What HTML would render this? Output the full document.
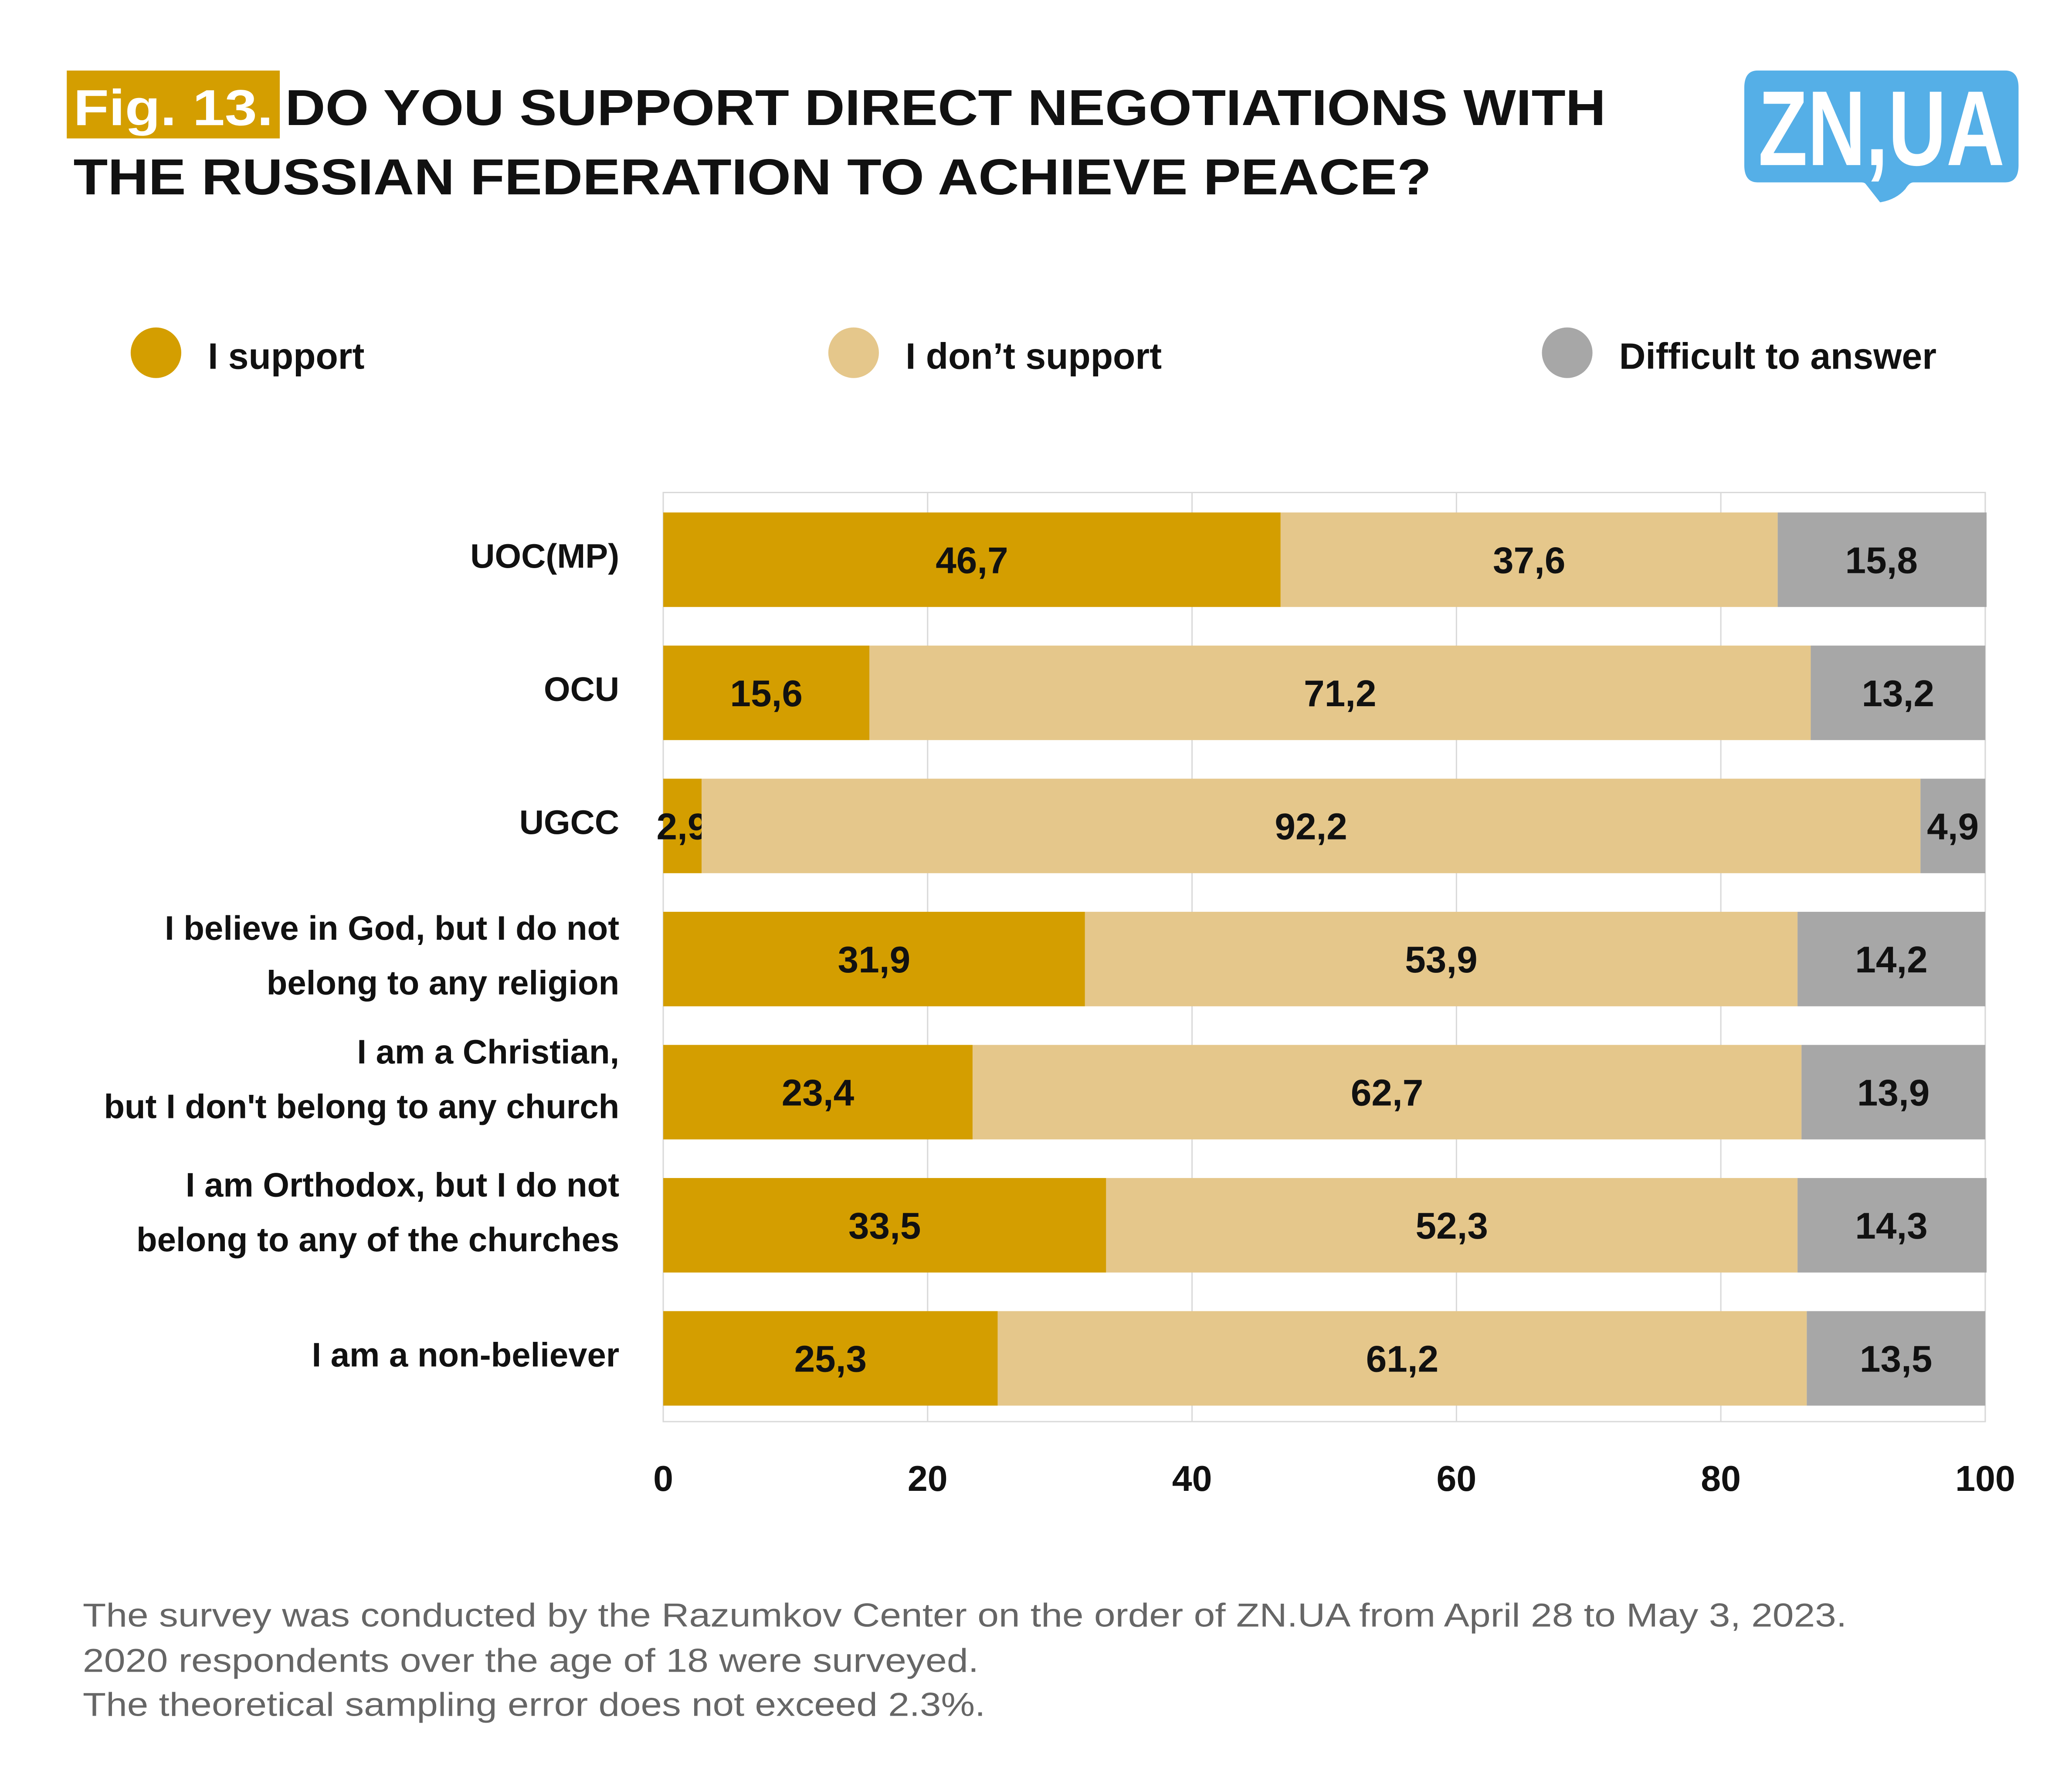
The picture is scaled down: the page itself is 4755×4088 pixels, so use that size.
<!DOCTYPE html>
<html><head><meta charset="utf-8"><style>
html,body{margin:0;padding:0;background:#fff}
svg{display:block}
text{font-family:"Liberation Sans","DejaVu Sans",sans-serif}
</style></head><body>
<svg id="chart" width="4755" height="4088" viewBox="0 0 1556 1338" xmlns="http://www.w3.org/2000/svg">
<rect width="1556" height="1338" fill="#fff"/>
<g>
<rect x="50" y="53" width="160" height="51" fill="#d49e00"/>
<text x="55" y="94" font-size="38" font-weight="bold" fill="#fff" textLength="150" lengthAdjust="spacingAndGlyphs">Fig. 13.</text>
<text x="214" y="94" font-size="38" font-weight="bold" fill="#111" textLength="992" lengthAdjust="spacingAndGlyphs">DO YOU SUPPORT DIRECT NEGOTIATIONS WITH</text>
<text x="55" y="146" font-size="38" font-weight="bold" fill="#111" textLength="1020" lengthAdjust="spacingAndGlyphs">THE RUSSIAN FEDERATION TO ACHIEVE PEACE?</text>
</g>
<g>
<path d="M1320 53 H1506 Q1516 53 1516 66 V124 Q1516 137 1506 137 H1437 Q1434 137 1431 142 Q1424 150 1412 152 L1401 138 Q1400 137 1398 137 H1320 Q1310 137 1310 124 V66 Q1310 53 1320 53 Z" fill="#55afe7"/>
<text x="1413" y="124" font-size="80" font-weight="bold" fill="#fff" text-anchor="middle" textLength="185" lengthAdjust="spacingAndGlyphs">ZN,UA</text>
</g>
<g id="legend"></g>
<g id="plot"></g>
<g font-size="25" fill="#666">
<text x="62" y="1222" textLength="1325" lengthAdjust="spacingAndGlyphs">The survey was conducted by the Razumkov Center on the order of ZN.UA from April 28 to May 3, 2023.</text>
<text x="62" y="1256" textLength="673" lengthAdjust="spacingAndGlyphs">2020 respondents over the age of 18 were surveyed.</text>
<text x="62" y="1289" textLength="678" lengthAdjust="spacingAndGlyphs">The theoretical sampling error does not exceed 2.3%.</text>
</g>
</svg>
<script>
const categories = [["UOC(MP)"],["OCU"],["UGCC"],["I believe in God, but I do not","belong to any religion"],["I am a Christian,","but I don't belong to any church"],["I am Orthodox, but I do not","belong to any of the churches"],["I am a non-believer"]];
const supportVals = [46.7,15.6,2.9,31.9,23.4,33.5,25.3];
const notSupportVals = [37.6,71.2,92.2,53.9,62.7,52.3,61.2];
const difficultVals = [15.8,13.2,4.9,14.2,13.9,14.3,13.5];
const seriesNames = ["I support","I don’t support","Difficult to answer"];
const xTicks = [0,20,40,60,80,100];

const NS="http://www.w3.org/2000/svg";
const colors=["#d49e00","#e5c78b","#a7a7a7"];
const X0=498,X1=1491,TOP=370,BOT=1068,ROW=100,BH=71,FIRST=385;
const xs=v=>X0+(X1-X0)*v/100;
const ys=i=>FIRST+i*ROW;
function el(t,a,p){const e=document.createElementNS(NS,t);for(const k in a)e.setAttribute(k,a[k]);p.appendChild(e);return e;}
const plot=document.getElementById('plot');
xTicks.forEach(t=>{
 const l=el('line',{x1:xs(t),x2:xs(t),y1:TOP,y2:BOT,stroke:'#d9d9d9','stroke-width':1},plot);
 
 
 const tx=el('text',{x:xs(t),y:1120,'font-size':27,'font-weight':'bold','text-anchor':'middle',fill:'#111'},plot);
 tx.textContent=t;
 
 
});
const fr=el('rect',{x:X0,y:TOP,width:X1-X0,height:BOT-TOP,fill:'none',stroke:'#d9d9d9','stroke-width':1},plot);


const series=[supportVals,notSupportVals,difficultVals];
categories.forEach((c,i)=>{
 let acc=0;
 series.forEach((s,k)=>{
  const v=s[i];
  const r=el('rect',{x:xs(acc),y:ys(i),width:xs(acc+v)-xs(acc),height:BH,fill:colors[k]},plot);
  
  
  const tx=el('text',{x:(xs(acc)+xs(Math.min(acc+v,100)))/2,y:ys(i)+BH/2+10,'font-size':28,'font-weight':'bold','text-anchor':'middle',fill:'#111'},plot);
  tx.textContent=String(v).replace('.',',');
  
  
  acc+=v;
 });
 const cy=ys(i)+BH/2;
 c.forEach((line,j)=>{
  const y=c.length===1?cy+6:ys(i)+(i===3?21:14)+j*41;
  const tx=el('text',{x:465,y:y,'font-size':25.5,'font-weight':'bold','text-anchor':'end',fill:'#111'},plot);
  tx.textContent=line;
  
  
 });
});
const leg=document.getElementById('legend');
const lx=[117,641,1177];
seriesNames.forEach((n,k)=>{
 const c=el('circle',{cx:lx[k],cy:265,r:19,fill:colors[k]},leg);
 
 
 const t=el('text',{x:lx[k]+39,y:277,'font-size':27.5,'font-weight':'bold',fill:'#111'},leg);
 t.textContent=n;
 
 
});
</script>
</body></html>
